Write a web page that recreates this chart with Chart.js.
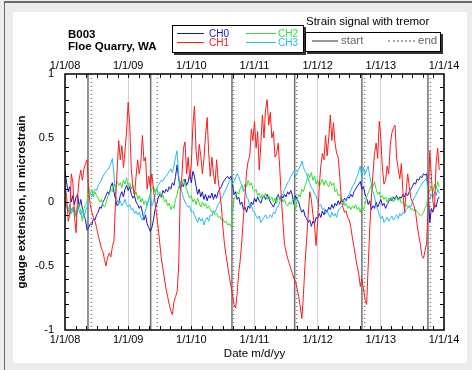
<!DOCTYPE html>
<html>
<head>
<meta charset="utf-8">
<script src="https://cdn.jsdelivr.net/npm/chart.js@4.4.0/dist/chart.umd.min.js"></script>
<style>
  body { margin: 0; width: 472px; height: 370px; background: #ececec; position: relative; overflow: hidden;
         font-family: "Liberation Sans", Arial, sans-serif; }
  #frame { position: absolute; left: 4px; top: 1px; width: 468px; height: 369px;
           border-left: 1px solid #6a6a6a; border-top: 2px solid #6a6a6a; }
  #panel { position: absolute; left: 13px; top: 12px; width: 454px; height: 351px; background: #fff; }
  #chart { position: absolute; left: 0; top: 0; }
  .t { position: absolute; white-space: nowrap; line-height: 1; }
  .box { position: absolute; border: 1px solid #000; background: #fff; box-shadow: 2px 2px 0 #333; }
  .ln { position: absolute; height: 0; }
</style>
</head>
<body>
<div id="frame"></div>
<div id="panel"></div>
<canvas id="chart" width="472" height="370"></canvas>

<div class="t" style="left:68px; top:29px; font-size:11.5px; font-weight:bold;">B003</div>
<div class="t" style="left:68px; top:41px; font-size:11.5px; font-weight:bold;">Floe Quarry, WA</div>

<div class="box" style="left:172px; top:25px; width:130px; height:26px;"></div>
<div class="ln" style="left:177px; top:33px; width:27px; border-top:1px solid #1414c8;"></div>
<div class="t" style="left:209px; top:29px; font-size:10px; color:#1414c8;">CH0</div>
<div class="ln" style="left:177px; top:42px; width:27px; border-top:1px solid #ff1a1a;"></div>
<div class="t" style="left:209px; top:38px; font-size:10px; color:#ff1a1a;">CH1</div>
<div class="ln" style="left:246px; top:33px; width:30px; border-top:1px solid #30e030;"></div>
<div class="t" style="left:278px; top:29px; font-size:10px; color:#30e030;">CH2</div>
<div class="ln" style="left:246px; top:42px; width:30px; border-top:1px solid #22bbf5;"></div>
<div class="t" style="left:278px; top:38px; font-size:10px; color:#22bbf5;">CH3</div>

<div class="t" style="left:306px; top:16px; font-size:11.5px;">Strain signal with tremor</div>
<div class="box" style="left:305px; top:32px; width:134px; height:18px;"></div>
<div class="ln" style="left:312px; top:40px; width:26px; border-top:2px solid #999;"></div>
<div class="t" style="left:341px; top:35px; font-size:11.5px; color:#666;">start</div>
<div class="ln" style="left:388px; top:40px; width:27px; border-top:2px dotted #aaa;"></div>
<div class="t" style="left:418px; top:35px; font-size:11.5px; color:#666;">end</div>

<script>
// sample dates (decimal years), about every 9 days
const dates = Array.from({ length: 238 }, (_, i) => +(2008 + i * 0.025).toFixed(3));

// tremor episodes
const startDates = [2008.364, 2009.356, 2010.643, 2011.636, 2012.70, 2013.746];
const endDates = [2008.417, 2009.46, 2010.67, 2011.668, 2012.744, 2013.783];

const yearTicks = [2008, 2009, 2010, 2011, 2012, 2013, 2014];

// CH0
const ch0 = [
  0.25, 0.15, 0.08, 0.12, 0.0, 0.05, -0.02, 0.04, 0.06, -0.04, 0.02, -0.05, -0.1, -0.14, -0.22,
  -0.2, -0.17, -0.18, -0.13, -0.14, -0.1, -0.08, -0.04, -0.05, 0.0, 0.02, 0.05, 0.08, 0.06, 0.12, 0.15, 0.08, 0.02, -0.03, -0.01,
  0.05, 0.08, 0.04, 0.1, 0.13, 0.09, 0.12, 0.06, 0.03, 0.05, 0.0, -0.02, -0.05, -0.03, -0.08, -0.14, -0.1, -0.17, -0.2, -0.23,
  -0.2, -0.14, -0.06, -0.02, 0.03, 0.06, 0.04, 0.09, 0.07, 0.1, 0.08, 0.12, 0.1, 0.15, 0.13, 0.2, 0.29, 0.18, 0.1, 0.14,
  0.12, 0.18, 0.13, 0.16, 0.22, 0.15, 0.24, 0.2, 0.12, 0.06, 0.1, 0.04, 0.08, 0.02, 0.06, 0.01, 0.05, 0.03, 0.07, 0.02,
  0.06, 0.03, 0.08, 0.1, 0.12, 0.15, 0.17, 0.19, 0.2, 0.18, 0.2,
  0.15, 0.06, 0.08, 0.02, 0.04, -0.02, 0.0, -0.06, -0.04, -0.08, -0.03, -0.05, 0.0, -0.02, 0.03, 0.0, 0.04, 0.01, -0.01, 0.03,
  0.05, 0.02, 0.06, 0.03, 0.0, -0.02, -0.04, -0.01, 0.03, 0.06, 0.02, 0.05, 0.03, 0.06, 0.04, 0.08, 0.06, 0.09, 0.05, -0.02,
  0.05, 0.02, 0.0, -0.05, -0.08, -0.06, -0.11, -0.13, -0.16, -0.14, -0.19, -0.15, -0.17, -0.12, -0.13, -0.09, -0.12, -0.07, -0.1, -0.06,
  -0.08, -0.04, -0.06, -0.02, -0.05, -0.01, -0.03, 0.01, -0.02, 0.02, 0.0, 0.03, 0.01, 0.04, 0.03, 0.06, 0.04, 0.08, 0.1, 0.12, 0.14, 0.16,
  0.1, 0.12, 0.06, 0.03, -0.02, 0.01, -0.06, -0.03, -0.05, 0.0, -0.04, -0.01, 0.02, -0.03, -0.01, -0.05, -0.02, 0.0, 0.03, 0.01,
  0.04, 0.02, 0.05, 0.02, 0.04, 0.03, 0.06, 0.04, 0.07, 0.05, 0.08, 0.1, 0.12, 0.15, 0.14, 0.18, 0.17, 0.2, 0.19, 0.22, 0.21, 0.22,
  0.1, -0.16, -0.05, -0.08, -0.02, -0.04, 0.02, 0.04
];

// CH1
const ch1 = [
  0.12, 0.05, -0.15, -0.1, 0.22, 0.15, -0.12, -0.24, 0.05, 0.18, 0.25, 0.17, 0.26, 0.3, 0.33,
  0.08, -0.02, -0.08, -0.12, -0.15, -0.2, -0.26, -0.31, -0.36, -0.39, -0.45, -0.5, -0.43, -0.4, -0.43, -0.35, -0.3, 0.0, 0.25, 0.48,
  0.33, 0.44, 0.27, 0.4, 0.55, 0.78, 0.6, 0.25, 0.12, 0.05, 0.2, 0.33, 0.22, 0.3, 0.52, 0.32, 0.35, 0.1, 0.2, 0.12,
  0.22, 0.1, 0.0, -0.1, -0.2, -0.32, -0.44, -0.52, -0.6, -0.68, -0.74, -0.8, -0.85, -0.88, -0.78, -0.74, -0.7, -0.5, 0.08, 0.2,
  0.42, 0.47, 0.22, 0.35, 0.18, 0.3, 0.6, 0.75, 0.4, 0.28, 0.45, 0.36, 0.22, 0.34, 0.52, 0.66, 0.38, 0.2, 0.35, 0.22,
  0.14, 0.33, 0.17, 0.08, -0.03, -0.2, -0.33, -0.42, -0.5, -0.58, -0.65,
  -0.72, -0.8, -0.83, -0.72, -0.55, -0.45, -0.3, -0.12, 0.05, 0.24, 0.32, 0.36, 0.57, 0.48, 0.63, 0.42, 0.55, 0.25, 0.45, 0.68,
  0.5, 0.72, 0.8, 0.6, 0.7, 0.5, 0.55, 0.35, 0.38, 0.46, 0.26, 0.03, -0.16, -0.33, -0.39, -0.44, -0.48, -0.52, -0.56, -0.6,
  -0.62, -0.68, -0.74, -0.82, -0.91, -0.72, -0.48, -0.3, -0.1, 0.08, 0.02, -0.1, -0.18, -0.34, -0.15, 0.12, 0.28, 0.38, 0.33, 0.52,
  0.36, 0.5, 0.68, 0.48, 0.62, 0.46, 0.38, 0.35, 0.2, 0.02, -0.04, -0.08, -0.07, -0.12, -0.14, -0.2, -0.28, -0.35, -0.43, -0.5, -0.56, -0.66,
  -0.6, -0.68, -0.76, -0.8, -0.5, -0.2, 0.03, 0.22, 0.38, 0.46, 0.34, 0.63, 0.5, 0.26, 0.14, 0.17, 0.28, 0.22, 0.45, 0.54,
  0.58, 0.6, 0.34, 0.26, 0.18, 0.3, 0.08, -0.08, 0.08, 0.22, 0.12, 0.03, 0.0, -0.03, -0.08, -0.18, -0.26, -0.33, -0.42, -0.44, -0.38, -0.32,
  0.0, 0.4, 0.2, 0.0, -0.05, 0.3, 0.42, 0.25
];

// CH2
const ch2 = [
  0.03, -0.02, -0.06, -0.1, -0.05, -0.08, -0.04, -0.12, -0.06, -0.02, -0.08, -0.15, -0.05, -0.02, 0.0,
  0.12, 0.06, 0.1, 0.04, 0.08, 0.05, 0.03, 0.0, 0.02, -0.02, -0.04, -0.01, 0.04, 0.06, 0.1, 0.08, 0.14, 0.12, 0.16, 0.13,
  0.15, 0.11, 0.17, 0.14, 0.19, 0.12, 0.15, 0.1, 0.13, 0.05, 0.08, 0.02, 0.05, 0.0, 0.03, -0.02, 0.01, -0.03, 0.02, 0.06,
  0.1, 0.12, 0.08, 0.11, 0.06, 0.08, 0.03, 0.05, 0.0, 0.02, -0.03, -0.01, -0.06, -0.03, -0.05, 0.02, 0.06, 0.12, 0.16, 0.13,
  0.18, 0.14, 0.1, 0.06, 0.03, 0.05, 0.0, 0.02, -0.02, 0.03, -0.01, -0.04, 0.0, -0.03, -0.01, -0.05, -0.03, -0.06, -0.08, -0.07,
  -0.1, -0.09, -0.12, -0.11, -0.14, -0.13, -0.16, -0.15, -0.18, -0.17, -0.19,
  -0.1, 0.02, 0.04, 0.08, 0.06, 0.11, 0.13, 0.1, 0.14, 0.12, 0.17, 0.13, 0.15, 0.1, 0.08, 0.1, 0.05, 0.07, 0.03, 0.06,
  0.04, 0.07, 0.02, 0.05, 0.02, 0.04, 0.0, 0.03, -0.01, 0.05, 0.02, 0.04, 0.0, 0.02, -0.02, -0.03, 0.0, -0.02, 0.01, 0.03,
  -0.06, 0.02, 0.06, 0.04, 0.1, 0.08, 0.13, 0.16, 0.22, 0.19, 0.23, 0.17, 0.2, 0.14, 0.17, 0.12, 0.15, 0.18, 0.13, 0.17,
  0.14, 0.12, 0.16, 0.13, 0.15, 0.08, 0.1, 0.05, 0.06, 0.01, 0.02, -0.03, -0.01, -0.05, -0.03, -0.06, -0.03, -0.05, -0.02, -0.06, -0.04, -0.08,
  -0.03, -0.06, -0.02, 0.04, 0.07, 0.1, 0.13, 0.12, 0.16, 0.1, 0.06, 0.08, 0.03, 0.05, 0.02, 0.04, 0.0, 0.03, 0.01, 0.04,
  0.0, 0.02, 0.04, 0.01, 0.03, -0.01, 0.0, -0.03, -0.02, -0.04, -0.03, -0.06, -0.05, -0.07, -0.06, -0.08, -0.09, -0.11, -0.1, -0.08, -0.05, -0.02,
  0.04, 0.09, 0.12, 0.08, 0.14, 0.1, 0.16, 0.12
];

// CH3
const ch3 = [
  0.0, -0.04, -0.07, -0.02, -0.09, -0.04, -0.06, -0.11, -0.03, -0.07, -0.1, -0.06, -0.12, -0.07, -0.04,
  0.02, 0.05, 0.04, 0.08, 0.1, 0.09, 0.13, 0.15, 0.17, 0.2, 0.22, 0.24, 0.25, 0.27, 0.3, 0.34, 0.22, 0.05, 0.02, -0.02,
  0.01, -0.03, -0.01, 0.02, -0.02, -0.04, -0.02, -0.06, -0.05, -0.09, -0.07, -0.1, -0.08, -0.12, -0.14, -0.1, -0.07, -0.02, 0.02, 0.05,
  -0.03, 0.0, 0.05, 0.1, 0.13, 0.15, 0.17, 0.16, 0.19, 0.2, 0.22, 0.24, 0.26, 0.23, 0.28, 0.35, 0.4, 0.2, 0.12, 0.08,
  0.03, 0.0, -0.02, -0.04, -0.03, -0.08, -0.07, -0.1, -0.13, -0.16, -0.12, -0.15, -0.13, -0.18, -0.14, -0.12, -0.15, -0.1, -0.11, -0.07,
  -0.08, -0.05, -0.02, 0.0, 0.03, 0.05, 0.08, 0.1, 0.13, 0.16, 0.18,
  0.14, 0.16, 0.19, 0.22, 0.2, 0.16, 0.13, 0.08, 0.1, 0.04, 0.02, -0.03, -0.02, -0.07, -0.08, -0.11, -0.13, -0.11, -0.16, -0.14,
  -0.12, -0.1, -0.13, -0.12, -0.1, -0.12, -0.08, -0.09, -0.05, -0.03, 0.0, 0.04, 0.06, 0.1, 0.12, 0.15, 0.17, 0.2, 0.22, 0.24,
  0.2, 0.23, 0.26, 0.28, 0.32, 0.27, 0.24, 0.22, 0.18, 0.15, 0.11, 0.1, 0.06, 0.05, 0.0, -0.03, -0.02, -0.06, -0.05, -0.09,
  -0.07, -0.1, -0.12, -0.08, -0.11, -0.09, -0.12, -0.07, -0.05, -0.04, -0.02, 0.0, 0.02, 0.04, 0.06, 0.09, 0.12, 0.14, 0.17, 0.2, 0.24, 0.28,
  0.18, 0.27, 0.22, 0.25, 0.28, 0.2, 0.14, 0.08, 0.04, -0.02, -0.06, -0.1, -0.13, -0.11, -0.16, -0.14, -0.12, -0.15, -0.13, -0.11,
  -0.14, -0.12, -0.1, -0.13, -0.09, -0.11, -0.08, -0.09, -0.06, -0.05, -0.03, -0.04, 0.0, 0.03, 0.05, 0.08, 0.1, 0.12, 0.14, 0.16, 0.17, 0.19,
  0.05, 0.02, 0.06, 0.03, 0.08, 0.05, 0.1, 0.07
];

const names = ['CH0', 'CH1', 'CH2', 'CH3'];
const colors = ['#1414c8', '#ff1a1a', '#30e030', '#22bbf5'];

function pts(vals) {
  return vals.map((v, i) => ({ x: dates[i], y: v }));
}

// episode lines, inward minor ticks and the frame of the plot
const decor = {
  id: 'decor',
  beforeDatasetsDraw(chart) {
    const { ctx, chartArea: a, scales: { x } } = chart;
    ctx.save();
    ctx.lineWidth = 1.5;
    ctx.strokeStyle = '#707070';
    startDates.forEach(d => {
      const px = x.getPixelForValue(d);
      ctx.beginPath(); ctx.moveTo(px, a.top); ctx.lineTo(px, a.bottom); ctx.stroke();
    });
    ctx.lineWidth = 1;
    ctx.strokeStyle = '#555';
    ctx.setLineDash([1, 3]);
    endDates.forEach(d => {
      const px = x.getPixelForValue(d);
      ctx.beginPath(); ctx.moveTo(px, a.top); ctx.lineTo(px, a.bottom); ctx.stroke();
    });
    ctx.restore();
  },
  afterDatasetsDraw(chart) {
    const { ctx, chartArea: a, scales: { x, y } } = chart;
    ctx.save();
    ctx.strokeStyle = '#000';
    ctx.lineWidth = 1;
    ctx.beginPath();
    for (let k = 1; k < 36; k++) {
      const px = Math.round(x.getPixelForValue(2008 + k / 6)) + 0.5;
      ctx.moveTo(px, a.bottom); ctx.lineTo(px, a.bottom - 4);
      ctx.moveTo(px, a.top); ctx.lineTo(px, a.top + 4);
    }
    for (let k = 1; k < 20; k++) {
      const py = Math.round(y.getPixelForValue(-1 + k / 10)) + 0.5;
      ctx.moveTo(a.left, py); ctx.lineTo(a.left + 4, py);
      ctx.moveTo(a.right, py); ctx.lineTo(a.right - 4, py);
    }
    ctx.stroke();
    ctx.lineWidth = 1.5;
    ctx.strokeRect(a.left, a.top, a.right - a.left, a.bottom - a.top);
    ctx.restore();
  }
};

Chart.defaults.font.family = '"Liberation Sans", Arial, sans-serif';
Chart.defaults.color = '#000';

const yearLabel = v => yearTicks.includes(v) ? '1/1/' + String(v).slice(2) : '';

new Chart(document.getElementById('chart'), {
  type: 'line',
  data: {
    datasets: [ch0, ch1, ch2, ch3].map((vals, k) => ({
      label: names[k],
      data: pts(vals),
      borderColor: colors[k],
      borderWidth: 1,
      pointRadius: 0,
      tension: 0,
      order: k === 1 ? 0 : 4 - k
    }))
  },
  options: {
    responsive: false,
    animation: false,
    events: [],
    layout: { padding: { left: 0, right: 28, top: 0, bottom: 0 } },
    plugins: { legend: { display: false }, tooltip: { enabled: false } },
    scales: {
      x: {
        type: 'linear', position: 'bottom', min: 2008, max: 2014,
        afterFit(s) { s.height = 40; },
        afterBuildTicks(s) { s.ticks = yearTicks.map(v => ({ value: v })); },
        ticks: { callback: yearLabel, padding: 3, maxRotation: 0, autoSkip: false, font: { size: 11 } },
        grid: { color: '#d2d2d2', lineWidth: 1, drawTicks: false },
        border: { display: false },
        title: { display: true, text: 'Date m/d/yy', font: { size: 11.5 }, padding: { top: 0, bottom: 9 } }
      },
      x2: {
        type: 'linear', position: 'top', min: 2008, max: 2014,
        afterFit(s) { s.height = 74; },
        afterBuildTicks(s) { s.ticks = yearTicks.map(v => ({ value: v })); },
        ticks: { callback: yearLabel, padding: 1.5, maxRotation: 0, autoSkip: false, font: { size: 11 } },
        grid: { display: false, drawTicks: false },
        border: { display: false }
      },
      y: {
        min: -1, max: 1,
        afterFit(s) { s.width = 65; },
        ticks: { stepSize: 0.5, padding: 11, font: { size: 11 }, callback: v => String(v) },
        grid: { display: false, drawTicks: false },
        border: { display: false },
        title: { display: true, text: 'gauge extension, in microstrain', font: { size: 11.5, weight: 'bold' },
                 padding: { top: 15, bottom: 0 } }
      }
    }
  },
  plugins: [decor]
});
</script>
</body>
</html>
